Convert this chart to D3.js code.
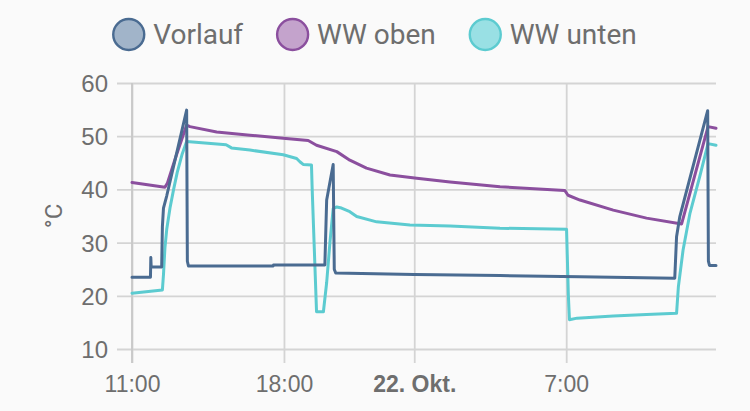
<!DOCTYPE html>
<html>
<head>
<meta charset="utf-8">
<script src="https://cdn.jsdelivr.net/npm/d3@7"></script>
<style>
  html, body { margin: 0; padding: 0; background: #fafafa; }
  svg { display: block; font-family: Roboto, "Noto Sans", sans-serif; }
</style>
</head>
<body>
<svg id="chart" width="750" height="411"></svg>
<script>
// ---- data ----
const seriesNames = ["Vorlauf", "WW oben", "WW unten"];

const vorlauf = [
  ["2023-10-21T11:00", 23.5], ["2023-10-21T11:51", 23.5], ["2023-10-21T11:52", 27.2],
  ["2023-10-21T11:53", 25.4], ["2023-10-21T12:22", 25.4], ["2023-10-21T12:24", 33.0],
  ["2023-10-21T12:27", 36.5], ["2023-10-21T12:36", 38.8], ["2023-10-21T13:31", 54.9],
  ["2023-10-21T13:33", 26.5], ["2023-10-21T13:36", 25.6], ["2023-10-21T17:30", 25.6],
  ["2023-10-21T17:31", 25.8], ["2023-10-21T19:53", 25.8], ["2023-10-21T19:58", 38.0],
  ["2023-10-21T20:16", 44.7], ["2023-10-21T20:19", 25.0], ["2023-10-21T20:23", 24.3],
  ["2023-10-22T00:00", 24.0], ["2023-10-22T03:57", 23.8], ["2023-10-22T07:38", 23.6],
  ["2023-10-22T12:00", 23.3], ["2023-10-22T12:05", 31.1], ["2023-10-22T12:14", 34.9],
  ["2023-10-22T13:31", 54.8], ["2023-10-22T13:33", 26.5], ["2023-10-22T13:36", 25.7],
  ["2023-10-22T13:54", 25.7]
];

const wwOben = [
  ["2023-10-21T11:00", 41.3], ["2023-10-21T12:31", 40.4], ["2023-10-21T12:38", 41.2],
  ["2023-10-21T13:03", 46.5], ["2023-10-21T13:31", 52.1], ["2023-10-21T13:40", 51.8],
  ["2023-10-21T14:54", 50.8], ["2023-10-21T16:26", 50.2], ["2023-10-21T17:58", 49.6],
  ["2023-10-21T19:07", 49.2], ["2023-10-21T19:30", 48.3], ["2023-10-21T20:26", 47.1],
  ["2023-10-21T21:02", 45.5], ["2023-10-21T21:48", 44.0], ["2023-10-21T22:53", 42.7],
  ["2023-10-22T00:07", 42.1], ["2023-10-22T01:39", 41.4], ["2023-10-22T03:57", 40.5],
  ["2023-10-22T06:56", 39.8], ["2023-10-22T07:05", 38.9], ["2023-10-22T07:38", 38.0],
  ["2023-10-22T09:10", 36.1], ["2023-10-22T10:42", 34.6], ["2023-10-22T12:19", 33.5],
  ["2023-10-22T13:32", 51.8], ["2023-10-22T13:54", 51.5]
];

const wwUnten = [
  ["2023-10-21T11:00", 20.5], ["2023-10-21T12:24", 21.1], ["2023-10-21T12:27", 24.0],
  ["2023-10-21T12:31", 29.0], ["2023-10-21T12:36", 32.5], ["2023-10-21T12:45", 36.5],
  ["2023-10-21T12:55", 40.0], ["2023-10-21T13:05", 43.2], ["2023-10-21T13:18", 46.5],
  ["2023-10-21T13:31", 49.0], ["2023-10-21T15:20", 48.4], ["2023-10-21T15:35", 47.8],
  ["2023-10-21T16:26", 47.4], ["2023-10-21T17:58", 46.5], ["2023-10-21T18:35", 45.8],
  ["2023-10-21T18:44", 45.2], ["2023-10-21T18:53", 44.7], ["2023-10-21T19:16", 44.6],
  ["2023-10-21T19:18", 40.0], ["2023-10-21T19:30", 17.0], ["2023-10-21T19:49", 17.0],
  ["2023-10-21T19:58", 22.5], ["2023-10-21T20:07", 30.0], ["2023-10-21T20:16", 36.4],
  ["2023-10-21T20:26", 36.7], ["2023-10-21T20:39", 36.5], ["2023-10-21T21:02", 35.8],
  ["2023-10-21T21:21", 34.9], ["2023-10-21T22:16", 33.9], ["2023-10-21T23:48", 33.3],
  ["2023-10-22T01:39", 33.1], ["2023-10-22T03:57", 32.7], ["2023-10-22T07:01", 32.5],
  ["2023-10-22T07:06", 20.0], ["2023-10-22T07:09", 15.5], ["2023-10-22T07:30", 15.8],
  ["2023-10-22T09:10", 16.2], ["2023-10-22T10:42", 16.5], ["2023-10-22T12:05", 16.7],
  ["2023-10-22T12:10", 21.7], ["2023-10-22T12:23", 28.6], ["2023-10-22T12:42", 35.5],
  ["2023-10-22T13:09", 42.4], ["2023-10-22T13:32", 48.6], ["2023-10-22T13:54", 48.3]
];

const xDomain = ["2023-10-21T11:00", "2023-10-22T13:54"];
const xTickTimes = ["2023-10-21T11:00", "2023-10-21T18:00", "2023-10-22T00:00", "2023-10-22T07:00"];
const xTickLabels = ["11:00", "18:00", "22. Okt.", "7:00"];
const xTickBold = [false, false, true, false];
const yTicks = [10, 20, 30, 40, 50, 60];
const yTitle = "°C";

// ---- styles ----
const lineColors = ["#4a6b91", "#8b4f9e", "#5ccbd0"];
const fillColors = ["#a1b4c9", "#c4a3cc", "#99e0e4"];
const textColor = "#6e6e6e";
const gridColor = "#d4d4d4";

const svg = d3.select("#chart");
const parse = d3.isoParse;

const margin = { left: 132, right: 34, top: 83, bottom: 62 };
const W = 750, H = 411;

const x = d3.scaleTime()
  .domain(xDomain.map(parse))
  .range([margin.left, W - margin.right]);
const y = d3.scaleLinear()
  .domain([10, 60])
  .range([H - margin.bottom, margin.top]);

// horizontal grid + y labels
const yAxis = d3.axisLeft(y)
  .tickValues(yTicks)
  .tickSize(-(W - margin.right - margin.left) - 15)
  .tickPadding(9)
  .tickFormat(d3.format("d"));
const gy = svg.append("g")
  .attr("transform", `translate(${margin.left - 15},0)`)
  .call(yAxis);
gy.select(".domain").remove();
gy.selectAll(".tick line")
  .attr("x1", 0)
  .attr("x2", W - margin.right - margin.left + 15)
  .attr("stroke", gridColor).attr("stroke-width", 1.8);
gy.selectAll(".tick text")
  .attr("fill", textColor).style("font-size", "24px").attr("dy", "0.35em");

// vertical grid + x labels
const xAxis = d3.axisBottom(x)
  .tickValues(xTickTimes.map(parse))
  .tickSize(0)
  .tickFormat((d, i) => xTickLabels[i]);
const gx = svg.append("g")
  .attr("transform", `translate(0,${H - margin.bottom})`)
  .call(xAxis);
gx.select(".domain").remove();
gx.selectAll(".tick line")
  .attr("y1", -(H - margin.bottom - margin.top))
  .attr("y2", 14)
  .attr("stroke", gridColor).attr("stroke-width", 1.8);
gx.selectAll(".tick text")
  .attr("y", 43)
  .attr("dy", 0)
  .attr("fill", textColor)
  .style("font-size", "23px")
  .style("font-weight", (d, i) => xTickBold[i] ? "bold" : "normal");

// left axis line
svg.append("line")
  .attr("x1", margin.left).attr("x2", margin.left)
  .attr("y1", margin.top).attr("y2", H - margin.bottom + 14)
  .attr("stroke", "#c8c8c8").attr("stroke-width", 1.8);

// y title
svg.append("text")
  .attr("transform", `translate(62,${(margin.top + H - margin.bottom) / 2}) rotate(-90)`)
  .attr("text-anchor", "middle")
  .attr("fill", textColor)
  .style("font-size", "24px")
  .text(yTitle);

// lines
const line = d3.line()
  .x(d => x(parse(d[0])))
  .y(d => y(d[1]))
  .curve(d3.curveLinear);

const datasets = [vorlauf, wwOben, wwUnten];
// draw in reverse order so the first series is on top
[2, 1, 0].forEach(i => {
  svg.append("path")
    .datum(datasets[i])
    .attr("d", line)
    .attr("fill", "none")
    .attr("stroke", lineColors[i])
    .attr("stroke-width", 3)
    .attr("stroke-linejoin", "round")
    .attr("stroke-linecap", "round");
});

// legend
const legend = svg.append("g");
const r = 15.5, textGap = 9, itemGap = 34;
let cursor = 0;
seriesNames.forEach((name, i) => {
  const g = legend.append("g");
  g.append("circle")
    .attr("cx", r).attr("cy", 0).attr("r", r)
    .attr("fill", fillColors[i]).attr("stroke", lineColors[i]).attr("stroke-width", 2.4);
  const t = g.append("text")
    .attr("x", 2 * r + textGap).attr("y", 0).attr("dy", "0.35em")
    .attr("fill", textColor).style("font-size", "28px")
    .text(name);
  const w = 2 * r + textGap + t.node().getComputedTextLength();
  g.attr("transform", `translate(${cursor},0)`);
  cursor += w + itemGap;
});
const totalW = cursor - itemGap;
legend.attr("transform", `translate(${375 - totalW / 2},34.5)`);
</script>
</body>
</html>
